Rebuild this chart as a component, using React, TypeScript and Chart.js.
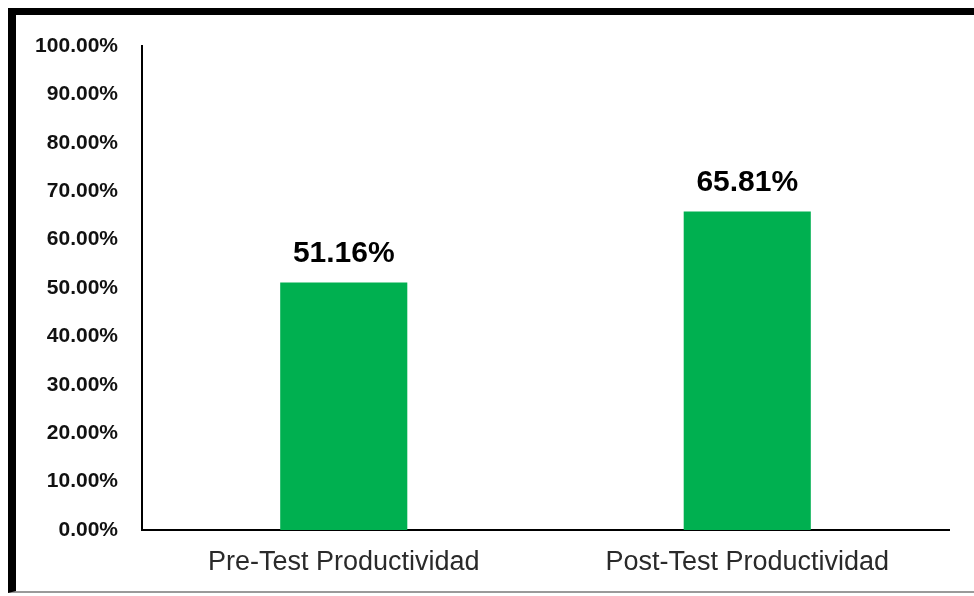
import React, { useEffect, useRef } from "react";
import { Chart, registerables } from "chart.js";

Chart.register(...registerables);

const categories = ["Pre-Test Productividad", "Post-Test Productividad"];
const values = [0.5116, 0.6581];
const valueLabels = ["51.16%", "65.81%"];
const yTickLabels = ["0.00%", "10.00%", "20.00%", "30.00%", "40.00%", "50.00%", "60.00%", "70.00%", "80.00%", "90.00%", "100.00%"];

const FONT = "'Liberation Sans', Arial, sans-serif";

const valueLabelPlugin = {
  id: "valueLabels",
  afterDatasetsDraw(chart: any) {
    const ctx = chart.ctx;
    const meta = chart.getDatasetMeta(0);
    ctx.save();
    ctx.font = `bold 30px ${FONT}`;
    ctx.fillStyle = "#000";
    ctx.textAlign = "center";
    ctx.textBaseline = "alphabetic";
    meta.data.forEach((bar: any, i: number) => {
      ctx.fillText(valueLabels[i], bar.x, bar.y - 20);
    });
    ctx.restore();
  },
};

export default function App() {
  const ref = useRef<HTMLCanvasElement>(null);
  useEffect(() => {
    if (!ref.current) return;
    const chart = new Chart(ref.current, {
      type: "bar",
      data: {
        labels: categories,
        datasets: [
          {
            data: values,
            backgroundColor: "#00B050",
            barPercentage: 0.315,
            categoryPercentage: 1,
          },
        ],
      },
      options: {
        animation: false,
        responsive: false,
        maintainAspectRatio: false,
        devicePixelRatio: 1,
        layout: { padding: { top: 46, left: 0, right: 25, bottom: 16 } },
        plugins: { legend: { display: false }, tooltip: { enabled: false } },
        scales: {
          x: {
            grid: { display: false, drawTicks: false },
            border: { display: true, color: "#000", width: 2 },
            ticks: { color: "#2a2a2a", font: { family: FONT, size: 27 }, padding: 16 },
            afterFit: (s: any) => {
              s.height = 50;
            },
          },
          y: {
            min: 0,
            max: 1,
            grid: { display: false, drawTicks: false },
            border: { display: true, color: "#000", width: 2 },
            ticks: {
              stepSize: 0.1,
              color: "#111",
              font: { family: FONT, size: 21, weight: "bold" },
              padding: 24,
              callback: (_v: any, i: number) => yTickLabels[i],
            },
            afterFit: (s: any) => {
              s.width = 142;
            },
          },
        },
      },
      plugins: [valueLabelPlugin],
    });
    return () => chart.destroy();
  }, []);

  return (
    <div>
      <div
        style={{
          position: "fixed",
          left: 8,
          top: 8,
          width: 974,
          height: 576,
          borderLeft: "8px solid #000",
          borderTop: "7px solid #000",
          borderBottom: "2px solid #9a9a9a",
          boxSizing: "content-box",
          background: "#fff",
        }}
      />
      <canvas
        ref={ref}
        width={974}
        height={596}
        style={{ position: "fixed", left: 0, top: 0, width: 974, height: 596 }}
      />
    </div>
  );
}
